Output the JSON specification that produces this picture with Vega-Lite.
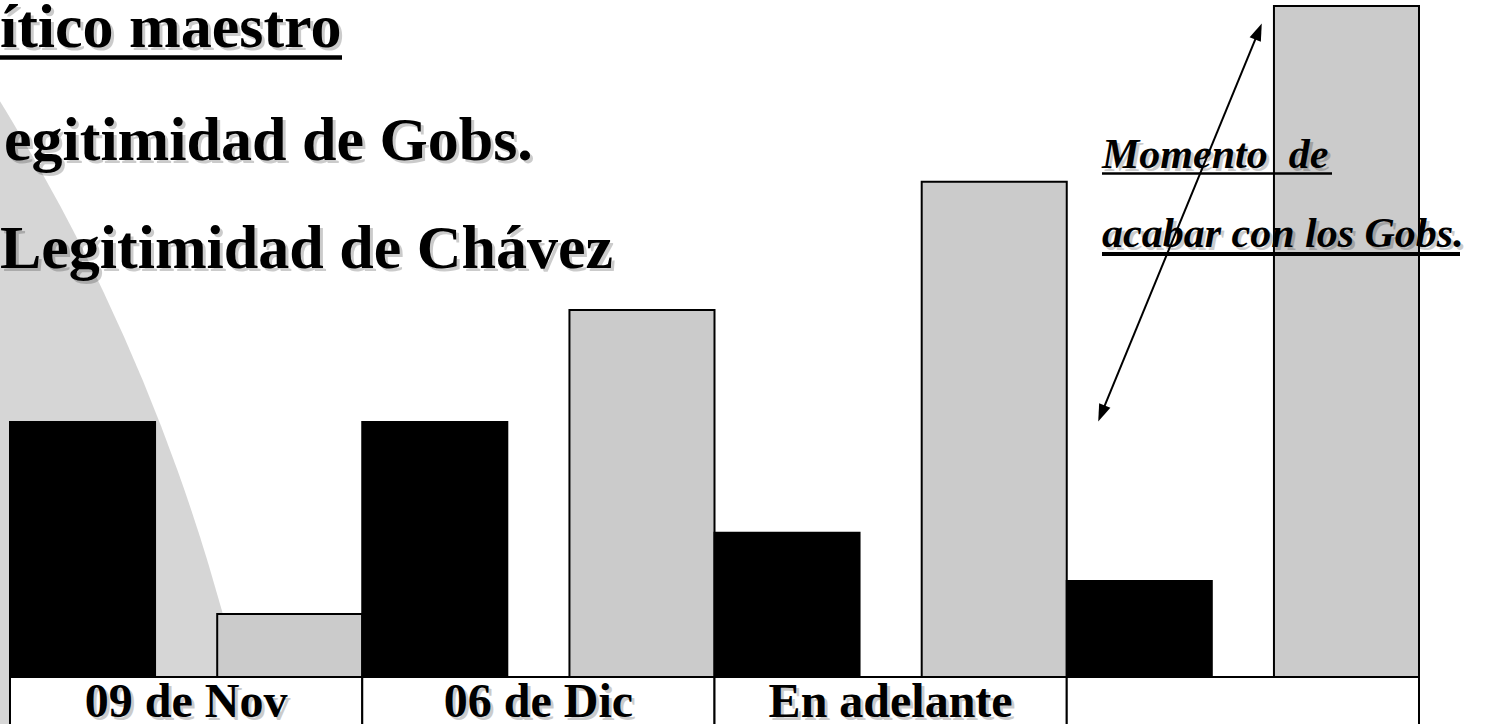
{
  "$schema": "https://vega.github.io/schema/vega-lite/v6.json",
  "width": 1409,
  "height": 671,
  "padding": {"left": 10, "right": 66, "top": 6, "bottom": 47},
  "autosize": {"type": "none"},
  "background": "#ffffff",
  "config": {"view": {"stroke": null}, "text": {"font": "Liberation Serif"}},
  "datasets": {
    "barras": [
      {"fecha": "09 de Nov", "serie": "Legitimidad de Gobs.", "valor": 38.0},
      {"fecha": "09 de Nov", "serie": "Legitimidad de Chávez", "valor": 9.4},
      {"fecha": "06 de Dic", "serie": "Legitimidad de Gobs.", "valor": 38.0},
      {"fecha": "06 de Dic", "serie": "Legitimidad de Chávez", "valor": 54.7},
      {"fecha": "En adelante", "serie": "Legitimidad de Gobs.", "valor": 21.5},
      {"fecha": "En adelante", "serie": "Legitimidad de Chávez", "valor": 73.8},
      {"fecha": "", "serie": "Legitimidad de Gobs.", "valor": 14.3},
      {"fecha": "", "serie": "Legitimidad de Chávez", "valor": 100}
    ],
    "periodos": [
      {"fecha": "09 de Nov"},
      {"fecha": "06 de Dic"},
      {"fecha": "En adelante"},
      {"fecha": ""}
    ]
  },
  "layer": [
    {
      "data": {"values": [{}]},
      "mark": {"type": "point", "shape": "circle", "filled": true, "size": 15523600, "color": "#d6d6d6", "opacity": 1, "strokeWidth": 0},
      "encoding": {"x": {"value": -1687}, "y": {"value": 1129}}
    },
    {
      "data": {"name": "periodos"},
      "mark": {"type": "rect", "fill": "#ffffff", "stroke": "#000000", "strokeWidth": 2},
      "encoding": {
        "x": {"field": "fecha", "type": "nominal", "scale": {"domain": ["09 de Nov", "06 de Dic", "En adelante", ""], "paddingInner": 0, "paddingOuter": 0}, "axis": null},
        "y": {"value": 671},
        "y2": {"value": 745}
      }
    },
    {
      "data": {"name": "periodos"},
      "mark": {"type": "text", "fontSize": 48, "fontWeight": "bold", "baseline": "alphabetic", "align": "center", "color": "#000000", "opacity": 0.2, "dx": 3, "dy": 3},
      "encoding": {
        "x": {"field": "fecha", "type": "nominal"},
        "y": {"value": 711},
        "text": {"field": "fecha"}
      }
    },
    {
      "data": {"name": "periodos"},
      "mark": {"type": "text", "fontSize": 48, "fontWeight": "bold", "baseline": "alphabetic", "align": "center", "color": "#000000"},
      "encoding": {
        "x": {"field": "fecha", "type": "nominal"},
        "y": {"value": 711},
        "text": {"field": "fecha"}
      }
    },
    {
      "data": {"name": "barras"},
      "mark": {"type": "bar", "stroke": "#000000", "strokeWidth": 2},
      "encoding": {
        "x": {"field": "fecha", "type": "nominal"},
        "xOffset": {"field": "serie", "type": "nominal", "scale": {"domain": ["Legitimidad de Gobs.", "Legitimidad de Chávez"], "paddingInner": 0.3, "paddingOuter": 0}},
        "y": {"field": "valor", "type": "quantitative", "scale": {"domain": [0, 100], "nice": false, "zero": true}, "axis": null},
        "color": {"field": "serie", "type": "nominal", "scale": {"domain": ["Legitimidad de Gobs.", "Legitimidad de Chávez"], "range": ["#000000", "#cbcbcb"]}, "legend": null}
      }
    },
    {
      "data": {"values": [{}]},
      "mark": {"type": "text", "text": "ítico maestro", "fontSize": 62, "fontWeight": "bold", "align": "left", "baseline": "alphabetic", "color": "#000000", "opacity": 0.2, "dx": 3, "dy": 3},
      "encoding": {"x": {"value": -10}, "y": {"value": 41}}
    },
    {
      "data": {"values": [{}]},
      "mark": {"type": "text", "text": "ítico maestro", "fontSize": 62, "fontWeight": "bold", "align": "left", "baseline": "alphabetic", "color": "#000000"},
      "encoding": {"x": {"value": -10}, "y": {"value": 41}}
    },
    {
      "data": {"values": [{}]},
      "mark": {"type": "rule", "color": "#000000", "strokeWidth": 4.5},
      "encoding": {"x": {"value": -10}, "x2": {"value": 332}, "y": {"value": 51.5}, "y2": {"value": 51.5}}
    },
    {
      "data": {"values": [{}]},
      "mark": {"type": "text", "text": "egitimidad de Gobs.", "fontSize": 62, "fontWeight": "bold", "align": "left", "baseline": "alphabetic", "color": "#000000", "opacity": 0.2, "dx": 3, "dy": 3},
      "encoding": {"x": {"value": -6}, "y": {"value": 154}}
    },
    {
      "data": {"values": [{}]},
      "mark": {"type": "text", "text": "egitimidad de Gobs.", "fontSize": 62, "fontWeight": "bold", "align": "left", "baseline": "alphabetic", "color": "#000000"},
      "encoding": {"x": {"value": -6}, "y": {"value": 154}}
    },
    {
      "data": {"values": [{}]},
      "mark": {"type": "text", "text": "Legitimidad de Chávez", "fontSize": 62, "fontWeight": "bold", "align": "left", "baseline": "alphabetic", "color": "#000000", "opacity": 0.2, "dx": 3, "dy": 3},
      "encoding": {"x": {"value": -10}, "y": {"value": 262}}
    },
    {
      "data": {"values": [{}]},
      "mark": {"type": "text", "text": "Legitimidad de Chávez", "fontSize": 62, "fontWeight": "bold", "align": "left", "baseline": "alphabetic", "color": "#000000"},
      "encoding": {"x": {"value": -10}, "y": {"value": 262}}
    },
    {
      "data": {"values": [{}]},
      "mark": {"type": "text", "text": "Momento\u00a0 de", "fontSize": 42, "fontWeight": "bold", "fontStyle": "italic", "align": "left", "baseline": "alphabetic", "color": "#000000", "opacity": 0.2, "dx": 3, "dy": 3},
      "encoding": {"x": {"value": 1092}, "y": {"value": 162}}
    },
    {
      "data": {"values": [{}]},
      "mark": {"type": "text", "text": "Momento\u00a0 de", "fontSize": 42, "fontWeight": "bold", "fontStyle": "italic", "align": "left", "baseline": "alphabetic", "color": "#000000"},
      "encoding": {"x": {"value": 1092}, "y": {"value": 162}}
    },
    {
      "data": {"values": [{}]},
      "mark": {"type": "rule", "color": "#000000", "strokeWidth": 2.5},
      "encoding": {"x": {"value": 1092}, "x2": {"value": 1322}, "y": {"value": 167.5}, "y2": {"value": 167.5}}
    },
    {
      "data": {"values": [{}]},
      "mark": {"type": "text", "text": "acabar con los Gobs.", "fontSize": 42, "fontWeight": "bold", "fontStyle": "italic", "align": "left", "baseline": "alphabetic", "color": "#000000", "opacity": 0.2, "dx": 3, "dy": 3},
      "encoding": {"x": {"value": 1092}, "y": {"value": 241}}
    },
    {
      "data": {"values": [{}]},
      "mark": {"type": "text", "text": "acabar con los Gobs.", "fontSize": 42, "fontWeight": "bold", "fontStyle": "italic", "align": "left", "baseline": "alphabetic", "color": "#000000"},
      "encoding": {"x": {"value": 1092}, "y": {"value": 241}}
    },
    {
      "data": {"values": [{}]},
      "mark": {"type": "rule", "color": "#000000", "strokeWidth": 4},
      "encoding": {"x": {"value": 1092}, "x2": {"value": 1450}, "y": {"value": 248}, "y2": {"value": 248}}
    },
    {
      "data": {"values": [{}]},
      "mark": {"type": "rule", "color": "#000000", "strokeWidth": 2},
      "encoding": {"x": {"value": 1090.8}, "x2": {"value": 1249.2}, "y": {"value": 409.1}, "y2": {"value": 23.9}}
    },
    {
      "data": {"values": [{}]},
      "mark": {"type": "point", "shape": "M0,-1L0.7,1L-0.7,1Z", "filled": true, "size": 300, "color": "#000000", "opacity": 1, "strokeWidth": 0, "angle": 22.2},
      "encoding": {"x": {"value": 1248.5}, "y": {"value": 25.5}}
    },
    {
      "data": {"values": [{}]},
      "mark": {"type": "point", "shape": "M0,-1L0.7,1L-0.7,1Z", "filled": true, "size": 300, "color": "#000000", "opacity": 1, "strokeWidth": 0, "angle": 202.2},
      "encoding": {"x": {"value": 1091.5}, "y": {"value": 407.5}}
    }
  ]
}
